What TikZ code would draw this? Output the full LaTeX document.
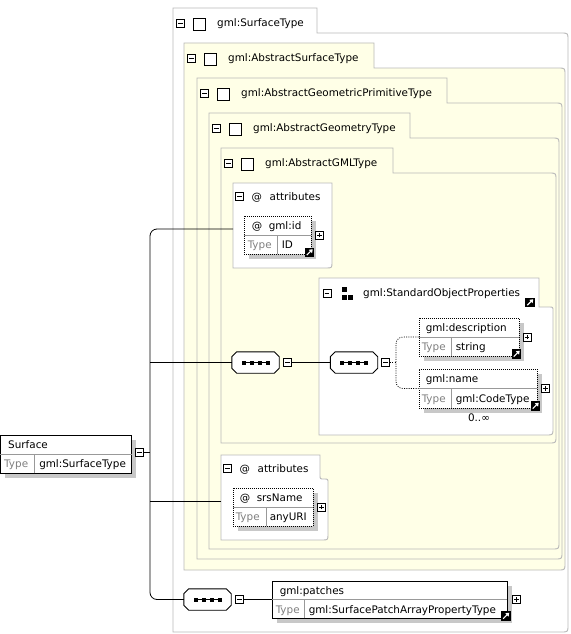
\documentclass[tikz,border=0pt]{standalone}
\usepackage{fontspec}
\setmainfont{DejaVu Sans}
\usetikzlibrary{calc,shadows,arrows.meta}

\definecolor{cream}{RGB}{255,255,231}
\definecolor{framegray}{RGB}{185,185,185}
\definecolor{shadowgray}{RGB}{200,200,200}
\definecolor{typegray}{RGB}{128,128,128}
\newcommand{\diagfont}{\fontsize{10.4}{12}\selectfont}

\tikzset{
  frame/.style={draw=framegray, line width=0.9pt},
  txt/.style={anchor=base west, inner sep=0pt, font=\diagfont},
  typetxt/.style={txt, text=typegray},
  elem/.style={draw, fill=white, line width=0.9pt, inner sep=0pt,
    drop shadow={shadow xshift=4.5pt, shadow yshift=-4.5pt, fill=shadowgray, opacity=1}},
  attrelem/.style={elem, dash pattern=on 1pt off 1pt},
  divider/.style={draw=gray!80, line width=0.6pt},
  seq/.style={minimum width=47pt, minimum height=21pt, inner sep=0pt},
  signbox/.style={draw, fill=white, line width=0.7pt, minimum size=8pt, inner sep=0pt},
  minusbox/.style={signbox, path picture={
    \draw[line width=0.7pt] ([xshift=-2.3pt]path picture bounding box.center)
      -- ([xshift=2.3pt]path picture bounding box.center);}},
  plusbox/.style={signbox, path picture={
    \draw[line width=0.7pt] ([xshift=-2.3pt]path picture bounding box.center)
      -- ([xshift=2.3pt]path picture bounding box.center)
      ([yshift=-2.3pt]path picture bounding box.center)
      -- ([yshift=2.3pt]path picture bounding box.center);}},
  linkicon/.style={fill=black, minimum size=9.5pt, inner sep=0pt, path picture={
    \draw[white, line width=1.1pt, -{Triangle[length=3.2pt,width=4.4pt]}]
      ([shift={(2pt,2pt)}]path picture bounding box.south west)
      -- ([shift={(-1.5pt,-1.5pt)}]path picture bounding box.north east);}},
  tabsq/.style={draw, fill=white, line width=0.7pt, minimum size=12pt, inner sep=0pt,
    drop shadow={shadow xshift=1.3pt, shadow yshift=-1.3pt, fill=gray!75, opacity=1}},
  conn/.style={line width=0.8pt},
  choice/.style={line width=0.7pt, dash pattern=on 1pt off 1.3pt},
}

\begin{document}
\begin{tikzpicture}[x=1pt, y=-1pt]
        \useasboundingbox (0,0) rectangle (570,634);

        % nested type frames
        \foreach \L/\T/\tabR/\R/\B/\bg/\tname in {173/8/317/568/632/white/gml:SurfaceType,
            184/43/374/565/570/cream/gml:AbstractSurfaceType,
            197/78/447/562/559/cream/gml:AbstractGeometricPrimitiveType,
            209/113/410/559/549/cream/gml:AbstractGeometryType,
            221/148/393/556/443/cream/gml:AbstractGMLType}{
            \filldraw[frame, fill=\bg] (\L,\B) -- (\L,\T) -- (\tabR,\T) -- (\tabR,\T+25)
                -- (\R-7,\T+25) .. controls (\R,\T+25) .. (\R,\T+32)
                -- (\R,\B-7) .. controls (\R,\B) .. (\R-7,\B) -- cycle;
            \node[minusbox] (tabMinus\T) at (\L+7.5,\T+15.5) {};
            \node[tabsq] (tabBox\T) at (\L+26,\T+16) {};
            \node[txt] (tabName\T) at (\L+44,\T+18.5) {\tname};
        }

        % attribute groups
        \filldraw[frame, fill=white] (233,268) -- (233,183) -- (332,183) -- (332,262)
            .. controls (332,268) .. (326,268) -- cycle;
        \node[minusbox] (attrAMinus) at (239.5,196) {};
        \node[txt] (attrAAt) at (251.5,200) {@};
        \node[txt] (attrATitle) at (269.5,200) {attributes};

        \filldraw[frame, fill=white] (221,540) -- (221,455) -- (320,455) -- (320,475)
            .. controls (320,479) .. (324,479) .. controls (328,479) .. (328,483)
            -- (328,534) .. controls (328,540) .. (322,540) -- cycle;
        \node[minusbox] (attrBMinus) at (227.5,468.5) {};
        \node[txt] (attrBAt) at (239.5,472) {@};
        \node[txt] (attrBTitle) at (257.5,472) {attributes};

        % group gml:StandardObjectProperties
        \filldraw[frame, fill=white] (319,435) -- (319,278) -- (539,278) -- (539,307)
            -- (549,307) .. controls (553,307) .. (553,311)
            -- (553,428) .. controls (553,435) .. (546,435) -- cycle;
        \node[minusbox] (sopMinus) at (327,293.5) {};
        \fill (342,287) rectangle +(5,5);
        \fill (342,294.5) rectangle +(5,5);
        \fill (348,294.5) rectangle +(5,5);
        \node[txt] (sopTitle) at (363,296) {gml:StandardObjectProperties};
        \node[linkicon] (sopLink) at (530,302.5) {};

        % element Surface
        \node[elem, minimum width=131pt, minimum height=38pt] (surface) at (66,454) {};
        \draw[divider] (surface.west) -- (surface.east);
        \draw[divider] ($(surface.south west)+(34,0)$) -- ($(surface.west)+(34,0)$);
        \node[txt] (surfaceTitle) at ($(surface.north west)+(8,13.5)$) {Surface};
        \node[typetxt] (surfaceTypeLbl) at ($(surface.west)+(4,13.5)$) {Type};
        \node[txt] (surfaceType) at ($(surface.west)+(39,13.5)$) {gml:SurfaceType};
        \node[minusbox] (surfaceMinus) at ($(surface.east)+(7.5,-1.5)$) {};

        % attribute gml:id
        \node[attrelem, minimum width=67pt, minimum height=38pt] (gmlid) at (277.5,235) {};
        \draw[divider] (gmlid.west) -- (gmlid.east);
        \draw[divider] ($(gmlid.south west)+(34,0)$) -- ($(gmlid.west)+(34,0)$);
        \node[txt] (gmlidAt) at ($(gmlid.north west)+(8,13.5)$) {@};
        \node[txt] (gmlidTitle) at ($(gmlid.north west)+(25,13.5)$) {gml:id};
        \node[typetxt] (gmlidTypeLbl) at ($(gmlid.west)+(4,13.5)$) {Type};
        \node[txt] (gmlidType) at ($(gmlid.west)+(38,13.5)$) {ID};
        \node[plusbox] (gmlidPlus) at ($(gmlid.east)+(8,0)$) {};
        \node[linkicon] (gmlidLink) at ($(gmlid.south east)+(-2,-2)$) {};

        % sequences
        \node[seq] (seqA) at (255.5,362.5) {};
        \node[seq] (seqB) at (354,362.5) {};
        \node[seq] (seqC) at (207.5,599.5) {};
        \foreach \s in {seqA,seqB,seqC}{
            \fill[shadowgray, shift={(4,4)}] ($(\s.north west)+(5,0)$) -- ($(\s.north east)+(-5,0)$)
                -- ($(\s.north east)+(0,5)$) -- ($(\s.south east)+(0,-5)$)
                -- ($(\s.south east)+(-5,0)$) -- ($(\s.south west)+(5,0)$)
                -- ($(\s.south west)+(0,-5)$) -- ($(\s.north west)+(0,5)$) -- cycle;
            \filldraw[fill=white, line width=0.9pt] ($(\s.north west)+(5,0)$) -- ($(\s.north east)+(-5,0)$)
                -- ($(\s.north east)+(0,5)$) -- ($(\s.south east)+(0,-5)$)
                -- ($(\s.south east)+(-5,0)$) -- ($(\s.south west)+(5,0)$)
                -- ($(\s.south west)+(0,-5)$) -- ($(\s.north west)+(0,5)$) -- cycle;
            \draw[line width=0.9pt] ($(\s.center)+(-12,0)$) -- ($(\s.center)+(12,0)$);
            \foreach \d in {-12,-4,4,12}
                \fill ($(\s.center)+(\d-2,-2)$) rectangle +(4,4);
            \node[minusbox] (\s Minus) at ($(\s.east)+(8,0)$) {};
        }

        % element gml:description
        \node[attrelem, minimum width=100pt, minimum height=38pt] (descr) at (469,337) {};
        \draw[divider] (descr.west) -- (descr.east);
        \draw[divider] ($(descr.south west)+(33,0)$) -- ($(descr.west)+(33,0)$);
        \node[txt] (descrTitle) at ($(descr.north west)+(7,13.5)$) {gml:description};
        \node[typetxt] (descrTypeLbl) at ($(descr.west)+(3,13.5)$) {Type};
        \node[txt] (descrType) at ($(descr.west)+(37,13.5)$) {string};
        \node[plusbox] (descrPlus) at ($(descr.east)+(7.5,0)$) {};
        \node[linkicon] (descrLink) at ($(descr.south east)+(-3,-2.5)$) {};

        % element gml:name
        \node[attrelem, minimum width=118pt, minimum height=39pt] (nameBox) at (478,388.5) {};
        \draw[divider] (nameBox.west) -- (nameBox.east);
        \draw[divider] ($(nameBox.south west)+(33,0)$) -- ($(nameBox.west)+(33,0)$);
        \node[txt] (nameTitle) at ($(nameBox.north west)+(7,13.5)$) {gml:name};
        \node[typetxt] (nameTypeLbl) at ($(nameBox.west)+(3,13.5)$) {Type};
        \node[txt] (nameType) at ($(nameBox.west)+(37,13.5)$) {gml:CodeType};
        \node[plusbox] (namePlus) at ($(nameBox.east)+(8,0)$) {};
        \node[linkicon] (nameLink) at ($(nameBox.south east)+(-2,-2.5)$) {};
        \node[font=\diagfont, anchor=base, inner sep=0pt] (nameCard) at ($(nameBox.south)+(1,12.7)$) {0..∞};

        % attribute srsName
        \node[attrelem, minimum width=80pt, minimum height=38pt] (srsName) at (273,507) {};
        \draw[divider] (srsName.west) -- (srsName.east);
        \draw[divider] ($(srsName.south west)+(34,0)$) -- ($(srsName.west)+(34,0)$);
        \node[txt] (srsNameAt) at ($(srsName.north west)+(7,13.5)$) {@};
        \node[txt] (srsNameTitle) at ($(srsName.north west)+(24,13.5)$) {srsName};
        \node[typetxt] (srsNameTypeLbl) at ($(srsName.west)+(3,13.5)$) {Type};
        \node[txt] (srsNameType) at ($(srsName.west)+(37,13.5)$) {anyURI};
        \node[plusbox] (srsNamePlus) at ($(srsName.east)+(8,0)$) {};

        % element gml:patches
        \node[elem, minimum width=235pt, minimum height=37pt] (patches) at (389.5,599.5) {};
        \draw[divider] (patches.west) -- (patches.east);
        \draw[divider] ($(patches.south west)+(33,0)$) -- ($(patches.west)+(33,0)$);
        \node[txt] (patchesTitle) at ($(patches.north west)+(8,13.5)$) {gml:patches};
        \node[typetxt] (patchesTypeLbl) at ($(patches.west)+(4,13.5)$) {Type};
        \node[txt] (patchesType) at ($(patches.west)+(37,13.5)$) {gml:SurfacePatchArrayPropertyType};
        \node[plusbox] (patchesPlus) at ($(patches.east)+(9,0)$) {};
        \node[linkicon] (patchesLink) at ($(patches.south east)+(-1.5,-2.5)$) {};

        % connectors
        \coordinate (trunk) at (150,0);
        \coordinate (attrAIn) at (233,229);
        \coordinate (attrBIn) at (221,501);
        \coordinate (choiceMid) at (396,362.5);
        \draw[conn, rounded corners=7pt] (attrAIn) -| (trunk |- seqC.west) -- (seqC.west);
        \draw[conn] (surfaceMinus.east) -- (surfaceMinus.east -| trunk);
        \draw[conn] (seqA.west) -- (seqA.west -| trunk);
        \draw[conn] (attrBIn) -- (attrBIn -| trunk);
        \draw[conn] (seqAMinus.east) -- (seqB.west);
        \draw[conn] (seqCMinus.east) -- (patches.west);
        \draw[choice] (seqBMinus.east) -- (choiceMid);
        \draw[choice, rounded corners=7pt] (descr.west) -| (choiceMid) |- (nameBox.west);
    \end{tikzpicture}
\end{document}
